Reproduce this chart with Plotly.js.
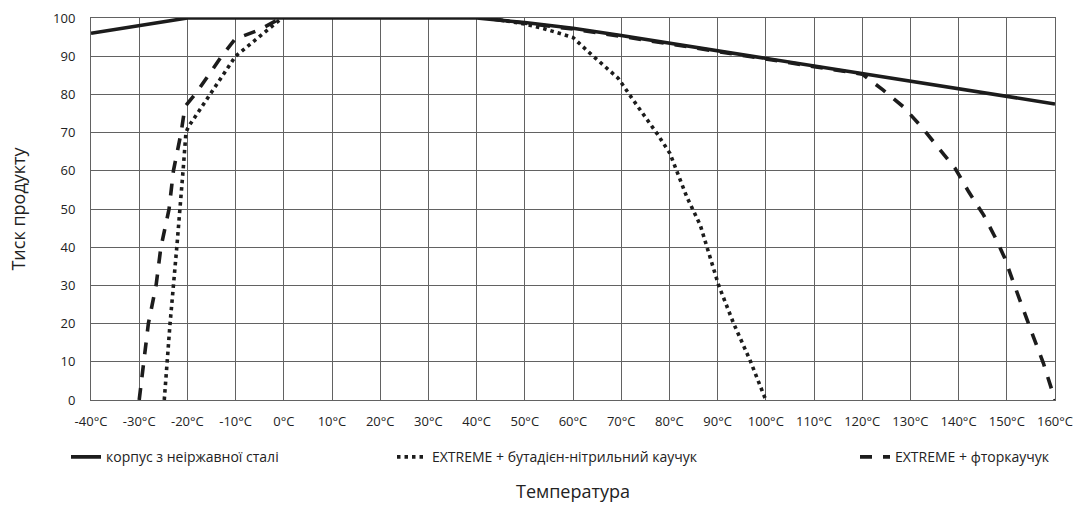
<!DOCTYPE html>
<html>
<head>
<meta charset="utf-8">
<script src="https://cdn.plot.ly/plotly-3.0.1.min.js"></script>
<style>html,body{margin:0;padding:0;background:#fff;}#chart{width:1081px;height:510px;}</style>
</head>
<body>
<div id="chart"></div>
<script>
// Temperature ticks
const tickVals = [-40,-30,-20,-10,0,10,20,30,40,50,60,70,80,90,100,110,120,130,140,150,160];
const tickText = ['-40°C','-30°C','-20°C','-10°C','0°C','10°C','20°C','30°C','40°C','50°C','60°C','70°C','80°C','90°C','100°C','110°C','120°C','130°C','140°C','150°C','160°C'];

// Series: stainless steel housing
const steelT = [-40,-20,0,40,50,60,70,80,90,100,110,120,130,140,150,160];
const steelP = [96,100,100,100,98.8,97.3,95.4,93.4,91.5,89.6,87.6,85.5,83.5,81.5,79.5,77.5];

// Series: EXTREME + NBR
const nbrT = [-24.8,-23.6,-22.2,-21.5,-20.9,-20.3,-19.8,-15.3,-10,-5,0,20,40,45,50,54,60,63.5,69.4,72.5,77.4,80.1,83.6,86.4,90.2,93.3,96.7,100];
const nbrP = [0,20,40,50,60,70,71.5,80,90,95.2,100.4,100.4,100.4,99.5,98.4,97.2,94.9,90.8,84.2,78.5,69.8,64.6,53.2,45.8,30.1,20.1,10.5,0];

// Series: EXTREME + FKM
const fkmT = [-30,-29.1,-28.1,-26.5,-25.5,-23.8,-22.9,-21.3,-20.5,-18.1,-12.9,-10.1,-4.9,0,20,40,45,50,60,70,80,90,100,110,120,124.3,128.5,132.3,135.8,139.3,142.1,145.2,147.5,149.6,151.3,153.4,155.5,157.6,160];
const fkmP = [0,10,20,30,40,50,60,70,76.8,80.5,90,94.5,97,100.4,100.4,100.4,99.4,98.6,97.1,95.2,93.2,91.3,89.4,87.4,85.3,81.2,76.8,71.5,65.9,60.6,54.5,48.4,42.8,37.1,31,23.6,16.6,9.6,0];

const names = ['корпус з неіржавної сталі','EXTREME + бутадієн-нітрильний каучук','EXTREME + фторкаучук'];

const lineColor = '#1c1c1c';
const traces = [
  {x: steelT, y: steelP, name: names[0], mode: 'lines', legend: 'legend',
   line: {color: lineColor, width: 3.6}},
  {x: nbrT, y: nbrP, name: names[1], mode: 'lines', legend: 'legend2',
   line: {color: lineColor, width: 3.6, dash: '3.5px,4px'}},
  {x: fkmT, y: fkmP, name: names[2], mode: 'lines', legend: 'legend3',
   line: {color: lineColor, width: 3.6, dash: '12px,11px'}}
];

const W = 964, L = 91;
function px2paper(p){ return (p - L) / W; }
const legBase = {orientation: 'h', yanchor: 'middle', y: -0.15, xanchor: 'left',
  font: {family: 'Open Sans, sans-serif', size: 14, color: '#222'}, bgcolor: 'rgba(0,0,0,0)', borderwidth: 0};

const gridColor = '#626262';
const layout = {
  width: 1081, height: 510,
  margin: {l: 91, r: 26, t: 18, b: 110},
  paper_bgcolor: '#fff', plot_bgcolor: '#fff',
  font: {family: 'Open Sans, sans-serif', color: '#222'},
  showlegend: true,
  xaxis: {
    range: [-40, 160], tickvals: tickVals, ticktext: tickText,
    showgrid: true, gridcolor: gridColor, gridwidth: 1,
    zeroline: false, showline: true, linecolor: gridColor, linewidth: 1, mirror: true,
    ticks: '', ticklabelstandoff: 9,
    tickfont: {family: 'Open Sans, sans-serif', size: 13, color: '#222'},
    title: {text: 'Температура', font: {family: 'Open Sans, sans-serif', size: 18, color: '#222'}, standoff: 56}
  },
  yaxis: {
    range: [0, 100], dtick: 10,
    showgrid: true, gridcolor: gridColor, gridwidth: 1,
    zeroline: false, showline: true, linecolor: gridColor, linewidth: 1, mirror: true,
    ticks: '', ticklabelstandoff: 12,
    tickfont: {family: 'Open Sans, sans-serif', size: 13, color: '#222'},
    title: {text: 'Тиск продукту', font: {family: 'Open Sans, sans-serif', size: 18, color: '#222'}, standoff: 22}
  },
  legend: Object.assign({}, legBase, {x: px2paper(66)}),
  legend2: Object.assign({}, legBase, {x: px2paper(392)}),
  legend3: Object.assign({}, legBase, {x: px2paper(855)})
};

Plotly.newPlot('chart', traces, layout, {displayModeBar: false, responsive: false});
</script>
</body>
</html>
